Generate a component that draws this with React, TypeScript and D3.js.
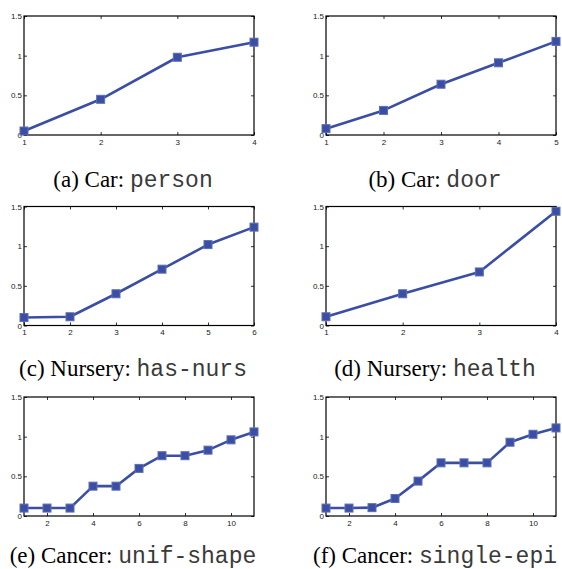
import React, { useRef, useEffect } from 'react';
import * as d3 from 'd3';

// panel captions
const prefixes = ['(a) Car: ', '(b) Car: ', '(c) Nursery: ', '(d) Nursery: ', '(e) Cancer: ', '(f) Cancer: '];
const attrs = ['person', 'door', 'has-nurs', 'health', 'unif-shape', 'single-epi'];

// series values (x runs 1..n)
const carPerson = [0.05, 0.45, 0.98, 1.17];
const carDoor = [0.08, 0.31, 0.64, 0.91, 1.18];
const nurseryHasNurs = [0.10, 0.11, 0.40, 0.71, 1.02, 1.24];
const nurseryHealth = [0.11, 0.40, 0.675, 1.44];
const cancerUnifShape = [0.10, 0.10, 0.10, 0.376, 0.376, 0.60, 0.76, 0.76, 0.83, 0.96, 1.06];
const cancerSingleEpi = [0.10, 0.10, 0.105, 0.22, 0.44, 0.67, 0.67, 0.67, 0.93, 1.03, 1.11];

const series = [carPerson, carDoor, nurseryHasNurs, nurseryHealth, cancerUnifShape, cancerSingleEpi];

const yTicks = [0, 0.5, 1, 1.5];
const smallXTicks = [2, 4, 6, 8, 10];

const App = () => {
  const svgRef = useRef<SVGSVGElement>(null);

  useEffect(() => {
    const svg = d3.select(svgRef.current);
    svg.selectAll('*').remove();

    const plotW = 230;
    const plotH = 119;
    const lefts = [24, 326];
    const tops = [16, 206.5, 397];
    const captionY = [187, 376, 563];
    const captionX = [133, 435];
    const blue = '#3a4ea3';

    series.forEach((vals, i) => {
      const col = i % 2;
      const row = Math.floor(i / 2);
      const x0 = lefts[col];
      const y0 = tops[row];
      const n = vals.length;

      const x = d3.scaleLinear().domain([1, n]).range([x0, x0 + plotW]);
      const y = d3.scaleLinear().domain([0, 1.5]).range([y0 + plotH, y0]);
      const xTicks = n > 6 ? smallXTicks : d3.range(1, n + 1);

      const g = svg.append('g');

      // inward ticks on all four sides (box style)
      const tl = 3;
      g.append('g')
        .attr('transform', `translate(0,${y0 + plotH})`)
        .call(d3.axisBottom(x).tickValues(xTicks).tickSize(-tl).tickPadding(4).tickFormat(d3.format('d')))
        .call(s => s.select('.domain').remove());
      g.append('g')
        .attr('transform', `translate(0,${y0})`)
        .call(d3.axisTop(x).tickValues(xTicks).tickSize(-tl).tickFormat(() => ''))
        .call(s => s.select('.domain').remove());
      g.append('g')
        .attr('transform', `translate(${x0},0)`)
        .call(d3.axisLeft(y).tickValues(yTicks).tickSize(-tl).tickPadding(2).tickFormat(d => String(d)))
        .call(s => s.select('.domain').remove());
      g.append('g')
        .attr('transform', `translate(${x0 + plotW},0)`)
        .call(d3.axisRight(y).tickValues(yTicks).tickSize(-tl).tickFormat(() => ''))
        .call(s => s.select('.domain').remove());

      g.selectAll('.tick text')
        .attr('font-family', '"Liberation Sans", Arial, sans-serif')
        .attr('font-size', 8)
        .attr('fill', '#222');
      g.selectAll('.tick line').attr('stroke', '#000').attr('stroke-width', 0.8);

      g.append('rect')
        .attr('x', x0)
        .attr('y', y0)
        .attr('width', plotW)
        .attr('height', plotH)
        .attr('fill', 'none')
        .attr('stroke', '#000')
        .attr('stroke-width', 1.2);

      const line = d3.line<number>()
        .x((_, k) => x(k + 1))
        .y(d => y(d));

      g.append('path')
        .datum(vals)
        .attr('d', line)
        .attr('fill', 'none')
        .attr('stroke', blue)
        .attr('stroke-width', 2.6)
        .attr('stroke-linejoin', 'round');

      const m = 8;
      g.selectAll('rect.mk')
        .data(vals)
        .enter()
        .append('rect')
        .attr('class', 'mk')
        .attr('x', (_, k) => x(k + 1) - m / 2)
        .attr('y', d => y(d) - m / 2)
        .attr('width', m)
        .attr('height', m)
        .attr('fill', blue)
        .attr('stroke', '#5c6db5')
        .attr('stroke-width', 1);

      const cap = g.append('text')
        .attr('x', captionX[col])
        .attr('y', captionY[row])
        .attr('text-anchor', 'middle')
        .attr('font-size', 23)
        .attr('fill', '#000');
      cap.append('tspan')
        .attr('font-family', '"Liberation Serif", "Times New Roman", serif')
        .text(prefixes[i]);
      cap.append('tspan')
        .attr('font-family', '"Liberation Mono", "Courier New", monospace')
        .attr('fill', '#3a3a3a')
        .text(attrs[i]);
    });
  }, []);

  return (
    <svg ref={svgRef} width={562} height={569} style={{ position: 'absolute', left: 0, top: 0, background: '#fff' }} />
  );
};

export default App;
